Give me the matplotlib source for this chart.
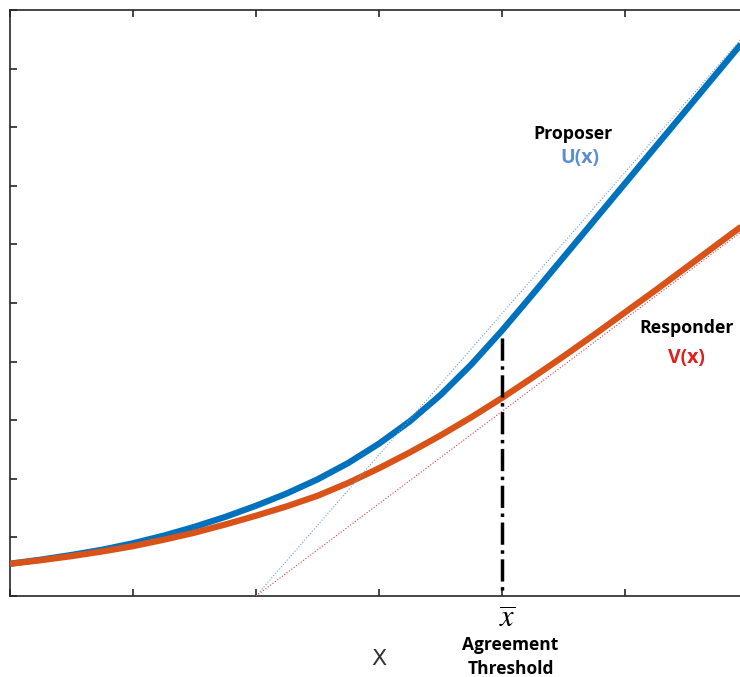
import matplotlib
matplotlib.use("Agg")
import matplotlib.pyplot as plt

# values
x_vals = [0, 0.25, 0.5, 0.75, 1.0, 1.25, 1.5, 1.75, 2.0, 2.25, 2.5, 2.75, 3.0,
          3.25, 3.5, 3.75, 4.0, 4.25, 4.5, 4.75, 5.0, 5.25, 5.5, 5.75, 6.0]
u_vals = [0.55, 0.62, 0.70, 0.79, 0.90, 1.03, 1.18, 1.35, 1.54, 1.75, 1.99, 2.27, 2.60,
          2.98, 3.43, 3.95, 4.53, 5.15, 5.78, 6.41, 7.04, 7.67, 8.30, 8.93, 9.56]
v_vals = [0.55, 0.61, 0.68, 0.76, 0.85, 0.96, 1.08, 1.22, 1.37, 1.53, 1.71, 1.93, 2.18,
          2.45, 2.74, 3.05, 3.38, 3.73, 4.09, 4.46, 4.84, 5.22, 5.61, 6.00, 6.39]

# asymptotes (start, end)
u_asym_x = [2.0, 6.0]
u_asym_y = [0.0, 9.64]
v_asym_x = [2.0, 6.0]
v_asym_y = [0.0, 6.30]

x_bar = 4.0
x_bar_top = 4.40

fig = plt.figure(figsize=(7.40, 6.77), dpi=100)
ax = fig.add_axes([10 / 740, 81 / 677, 738 / 740, 586 / 677])

ax.plot(x_vals, u_vals, color="#0072BD", lw=4.5, solid_capstyle="butt", zorder=3)
ax.plot(x_vals, v_vals, color="#D95319", lw=4.5, solid_capstyle="butt", zorder=3)
ax.plot(u_asym_x, u_asym_y, color="#6f9fd8", lw=0.8, ls=":", zorder=4)
ax.plot(v_asym_x, v_asym_y, color="#e23a4c", lw=0.8, ls=":", zorder=4)
ax.plot([x_bar, x_bar], [x_bar_top, 0], color="black", lw=2.5, ls="-.", zorder=5)

ax.set_xlim(0, 6)
ax.set_ylim(0, 10)
ax.set_xticks(range(0, 7))
ax.set_yticks(range(0, 11))
ax.set_xticklabels([])
ax.set_yticklabels([])
ax.tick_params(direction="in", top=True, right=True, length=5, width=1.2, color="#262626")
for s in ax.spines.values():
    s.set_color("#262626")
    s.set_linewidth(1.2)

ax.set_xlabel("X", fontsize=16, color="#333333", labelpad=35)

fam = ["Open Sans", "DejaVu Sans"]
ax.text(4.58, 7.88, "Proposer", fontsize=12.8, fontweight="bold", family=fam,
        ha="center", va="center")
ax.text(4.63, 7.47, "U(x)", fontsize=14, fontweight="bold", family=fam,
        color="#5b8fd0", ha="center", va="center")
ax.text(5.50, 4.57, "Responder", fontsize=12.8, fontweight="bold", family=fam,
        ha="center", va="center")
ax.text(5.50, 4.06, "V(x)", fontsize=14, fontweight="bold", family=fam,
        color="#e0201c", ha="center", va="center")

plt.rcParams["mathtext.fontset"] = "stix"
ax.text(4.04, -0.40, r"$\overline{x}$", fontsize=22, ha="center", va="center",
        clip_on=False)
ax.text(4.07, -1.04, "Agreement\nThreshold", fontsize=12.5, fontweight="bold",
        family=fam, ha="center", va="center", linespacing=1.4, clip_on=False)

fig.savefig("out.png", dpi=100)
